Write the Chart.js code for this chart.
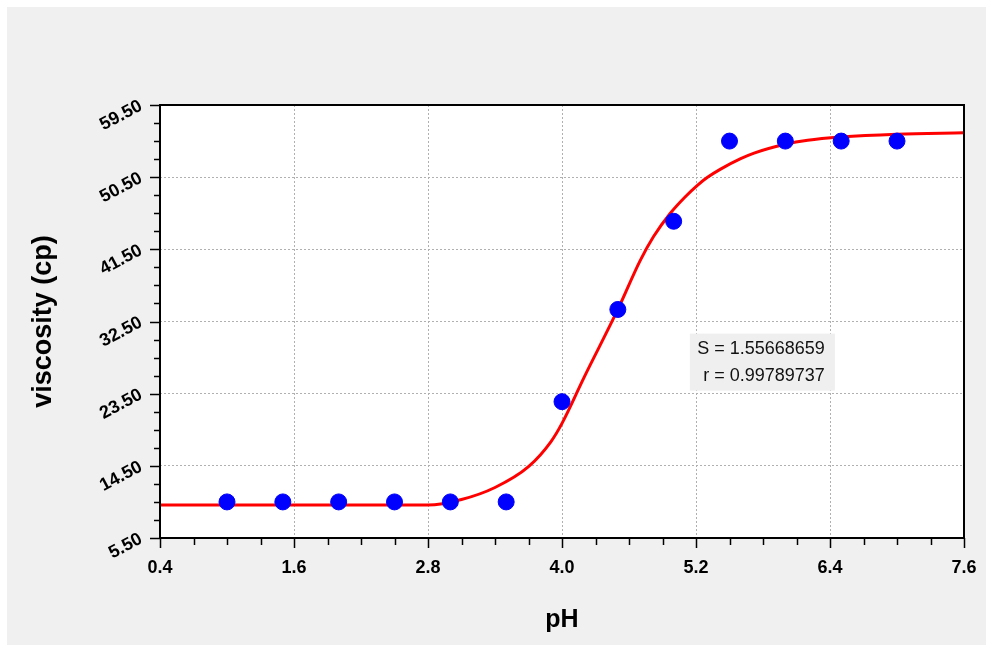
<!DOCTYPE html>
<html>
<head>
<meta charset="utf-8">
<script src="https://cdn.jsdelivr.net/npm/chart.js@4"></script>
<style>
  html, body { margin: 0; padding: 0; background: #fff; }
  #wrap { width: 986px; height: 645px; }
</style>
</head>
<body>
<div id="wrap"><canvas id="chart" width="986" height="645"></canvas></div>
<script>
// measured points
var phValues = [1.0, 1.5, 2.0, 2.5, 3.0, 3.5, 4.0, 4.5, 5.0, 5.5, 6.0, 6.5, 7.0];
var viscosity = [10, 10, 10, 10, 10, 10, 22.5, 34, 45, 55, 55, 55, 55];

// fitted curve
var fitX = [0.4, 1.6, 2.8, 3.1, 3.4, 3.7, 3.9, 4.0, 4.2, 4.5, 4.7, 4.82, 4.97, 5.1, 5.21, 5.3, 5.42, 5.6, 5.72, 6.0, 6.2, 6.5, 7.0, 7.6];
var fitY = [9.6, 9.6, 9.6, 10.3, 11.8, 14.4, 17.5, 19.8, 25.6, 34.0, 40.1, 43.1, 46.0, 48.0, 49.45, 50.45, 51.5, 52.8, 53.5, 54.6, 55.1, 55.5, 55.85, 56.05];

var fitStats = ['S = 1.55668659', ' r = 0.99789737'];

var xMin = 0.4, xMax = 7.6, xStep = 1.2, xMinor = 0.3;
var yMin = 5.5, yMax = 59.5, yStep = 9, yMinor = 2.25;

var pts = phValues.map(function(x, i) { return { x: x, y: viscosity[i] }; });
var fit = fitX.map(function(x, i) { return { x: x, y: fitY[i] }; });

var frame = {
  id: 'frame',
  beforeDraw: function(chart) {
    var c = chart.ctx, a = chart.chartArea;
    c.save();
    c.fillStyle = '#ffffff';
    c.fillRect(0, 0, chart.width, chart.height);
    c.fillStyle = '#f0f0f0';
    c.fillRect(7, 7, chart.width - 7, chart.height - 7);
    c.fillStyle = '#ffffff';
    c.fillRect(a.left, a.top, a.right - a.left, a.bottom - a.top);
    c.restore();
  },
  afterDraw: function(chart) {
    var c = chart.ctx, a = chart.chartArea;
    var xs = chart.scales.x, ys = chart.scales.y;
    c.save();
    c.strokeStyle = '#000';
    c.lineWidth = 2;
    c.strokeRect(a.left, a.top, a.right - a.left, a.bottom - a.top);
    c.lineWidth = 1.5;
    c.beginPath();
    var n = Math.round((xMax - xMin) / xMinor);
    for (var i = 0; i <= n; i++) {
      var px = Math.round(xs.getPixelForValue(xMin + i * xMinor)) + 0.5;
      var len = (i % 4 === 0) ? 10 : 7;
      c.moveTo(px, a.bottom);
      c.lineTo(px, a.bottom + len);
    }
    var m = Math.round((yMax - yMin) / yMinor);
    for (var j = 0; j <= m; j++) {
      var py = Math.round(ys.getPixelForValue(yMin + j * yMinor)) + 0.5;
      var l2 = (j % 4 === 0) ? 10 : 6;
      c.moveTo(a.left, py);
      c.lineTo(a.left - l2, py);
    }
    c.stroke();

    // fit statistics box
    var bx = xs.getPixelForValue(5.79), by = ys.getPixelForValue(27.5);
    c.fillStyle = '#efefef';
    c.fillRect(bx - 72, by - 28, 145, 57);
    c.fillStyle = '#111';
    c.font = '18px "Liberation Sans", Arial, sans-serif';
    c.textAlign = 'right';
    c.textBaseline = 'middle';
    c.fillText(fitStats[0], bx + 63, by - 13);
    c.fillText(fitStats[1], bx + 63, by + 14);
    c.restore();
  }
};

new Chart(document.getElementById('chart'), {
  type: 'scatter',
  data: {
    datasets: [{
      label: 'fit',
      data: fit,
      showLine: true,
      borderColor: '#ff0000',
      borderWidth: 3,
      pointRadius: 0,
      cubicInterpolationMode: 'monotone',
      order: 2
    }, {
      label: 'viscosity',
      data: pts,
      backgroundColor: '#0000ff',
      borderColor: '#0000ff',
      pointRadius: 8,
      pointHoverRadius: 8,
      order: 1
    }]
  },
  options: {
    responsive: false,
    animation: false,
    events: [],
    layout: { padding: { left: 0, right: 22, top: 105, bottom: 0 } },
    plugins: { legend: { display: false }, tooltip: { enabled: false } },
    scales: {
      x: {
        type: 'linear',
        min: xMin, max: xMax,
        afterFit: function(s) { s.height = 107; s.paddingLeft = 0; s.paddingRight = 0; },
        grid: { color: '#b0b0b0', drawTicks: false },
        border: { display: false, dash: [2, 2] },
        ticks: {
          stepSize: xStep,
          padding: 19,
          color: '#000',
          font: { family: '"Liberation Sans", Arial, sans-serif', size: 18, weight: 'bold' },
          callback: function(v) { return v.toFixed(1); }
        },
        title: {
          display: true, text: 'pH', color: '#000',
          font: { family: '"Liberation Sans", Arial, sans-serif', size: 25, weight: 'bold' },
          padding: { top: 0, bottom: 10 }
        }
      },
      y: {
        type: 'linear',
        min: yMin, max: yMax,
        afterFit: function(s) { s.width = 160; s.paddingTop = 0; s.paddingBottom = 0; },
        grid: { color: '#b0b0b0', drawTicks: false },
        border: { display: false, dash: [2, 2] },
        ticks: {
          stepSize: yStep,
          padding: 19,
          minRotation: 28, maxRotation: 28,
          color: '#000',
          font: { family: '"Liberation Sans", Arial, sans-serif', size: 18, weight: 'bold' },
          callback: function(v) { return v.toFixed(2); }
        },
        title: {
          display: true, text: 'viscosity (cp)', color: '#000',
          font: { family: '"Liberation Sans", Arial, sans-serif', size: 27, weight: 'bold' },
          padding: { top: 27, bottom: 0 }
        }
      }
    }
  },
  plugins: [frame]
});
</script>
</body>
</html>
